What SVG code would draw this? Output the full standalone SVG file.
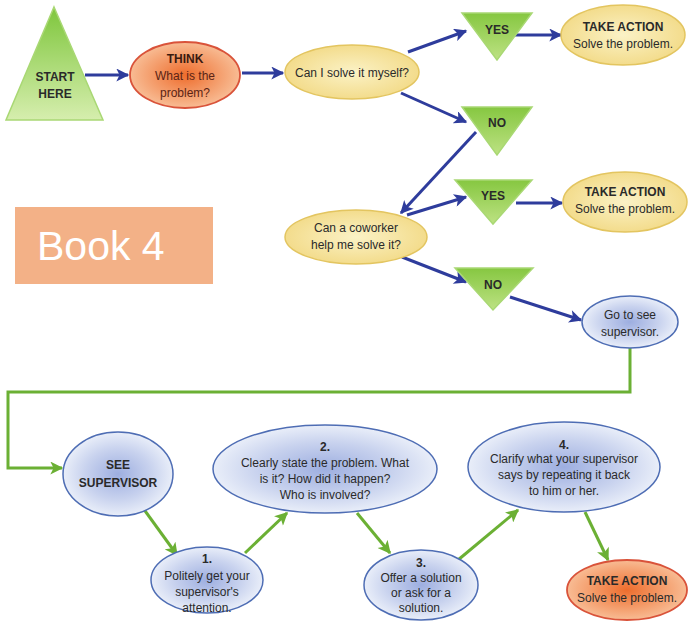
<svg xmlns="http://www.w3.org/2000/svg" width="689" height="622" viewBox="0 0 689 622">
<style>
text{font-family:"Liberation Sans",Arial,sans-serif;font-size:12px;fill:#2a2a2a;text-anchor:middle}
.b{font-weight:bold}
.yel{fill:url(#gy);stroke:#E3C560;stroke-width:1.5}
.blu{fill:url(#gb);stroke:#4E6DB4;stroke-width:1.5}
.org{fill:url(#go);stroke:#D9533A;stroke-width:1.8}
.tri{fill:url(#gt);stroke:#A9D874;stroke-width:1.5}
.ca{stroke:#2E3C9C;stroke-width:3;fill:none;marker-end:url(#ab)}
.cg{stroke:#6BB034;stroke-width:3;fill:none;marker-end:url(#ag)}
</style>
<defs>
<radialGradient id="gy" cx="50%" cy="50%" r="50%"><stop offset="0" stop-color="#FBF2C6"/><stop offset="1" stop-color="#F3DC8C"/></radialGradient>
<radialGradient id="gb" cx="50%" cy="50%" r="50%"><stop offset="0" stop-color="#9DAEE0"/><stop offset="0.6" stop-color="#C8D2EE"/><stop offset="1" stop-color="#E9EEF9"/></radialGradient>
<radialGradient id="go" cx="50%" cy="50%" r="50%"><stop offset="0" stop-color="#EE6D2D"/><stop offset="1" stop-color="#F8BC94"/></radialGradient>
<linearGradient id="gt" x1="0" y1="0" x2="0" y2="1"><stop offset="0" stop-color="#86C741"/><stop offset="1" stop-color="#BDE283"/></linearGradient>
<linearGradient id="gs" x1="0" y1="0" x2="0" y2="1"><stop offset="0" stop-color="#7EC63C"/><stop offset="1" stop-color="#D6EEAE"/></linearGradient>
<marker id="ab" viewBox="0 0 10 10" refX="9" refY="5" markerWidth="14" markerHeight="13" markerUnits="userSpaceOnUse" orient="auto"><path d="M0,0 L10,5 L0,10 L2.5,5z" fill="#2E3C9C"/></marker>
<marker id="ag" viewBox="0 0 10 10" refX="9" refY="5" markerWidth="14" markerHeight="13" markerUnits="userSpaceOnUse" orient="auto"><path d="M0,0 L10,5 L0,10 L2.5,5z" fill="#6BB034"/></marker>
</defs>
<rect width="689" height="622" fill="#fff"/>

<g id="connectors">
<path class="ca" d="M85,75 H128"/>
<path class="ca" d="M242,73 H283"/>
<path class="ca" d="M408,52 L466,31"/>
<path class="ca" d="M514,35 H561"/>
<path class="ca" d="M401,93 L466,122"/>
<path class="ca" d="M476,132 L401,213"/>
<path class="ca" d="M407,215 L466,197"/>
<path class="ca" d="M516,203 H562"/>
<path class="ca" d="M402,257 L466,282"/>
<path class="ca" d="M510,297 L581,320"/>
<path class="cg" d="M630,348 V392 H8 V468 H62"/>
<path class="cg" d="M143,508 L177,555"/>
<path class="cg" d="M245,553 L287,513"/>
<path class="cg" d="M357,513 L390,553"/>
<path class="cg" d="M458,560 L518,510"/>
<path class="cg" d="M585,512 L608,560"/>
</g>

<g id="book4">
<rect x="15" y="207" width="198" height="77" fill="#F3B187"/>
<text x="37" y="260" style="font-size:41px;fill:#fff;text-anchor:start">Book 4</text>
</g>

<g id="start">
<polygon points="54,7 103,120 6,120" fill="url(#gs)" stroke="#A9D874" stroke-width="1.5"/>
<text x="55" y="81" class="b">START</text>
<text x="55" y="98" class="b">HERE</text>
</g>

<g id="think">
<ellipse cx="185" cy="75" rx="55" ry="33" class="org"/>
<text x="185" y="63" class="b" style="fill:#3a1a10">THINK</text>
<text x="185" y="80" style="fill:#5a2416">What is the</text>
<text x="185" y="97" style="fill:#5a2416">problem?</text>
</g>

<g id="solve-myself">
<ellipse cx="352" cy="72" rx="67" ry="27" class="yel"/>
<text x="352" y="77">Can I solve it myself?</text>
</g>

<g id="yes1">
<polygon points="462,13 532,13 497,60" class="tri"/>
<text x="497" y="34" class="b">YES</text>
</g>

<g id="action1">
<ellipse cx="623" cy="35" rx="62" ry="30" class="yel"/>
<text x="623" y="31" class="b">TAKE ACTION</text>
<text x="623" y="48">Solve the problem.</text>
</g>

<g id="no1">
<polygon points="462,107 532,107 497,155" class="tri"/>
<text x="497" y="127" class="b">NO</text>
</g>

<g id="coworker">
<ellipse cx="356" cy="237" rx="71" ry="27" class="yel"/>
<text x="356" y="232">Can a coworker</text>
<text x="356" y="249">help me solve it?</text>
</g>

<g id="yes2">
<polygon points="455,180 532,180 493,224" class="tri"/>
<text x="493" y="200" class="b">YES</text>
</g>

<g id="action2">
<ellipse cx="625" cy="202" rx="62" ry="30" class="yel"/>
<text x="625" y="196" class="b">TAKE ACTION</text>
<text x="625" y="213">Solve the problem.</text>
</g>

<g id="no2">
<polygon points="455,268 533,268 493,310" class="tri"/>
<text x="493" y="289" class="b">NO</text>
</g>

<g id="go-supervisor">
<ellipse cx="630" cy="322" rx="48" ry="26" class="blu"/>
<text x="630" y="319">Go to see</text>
<text x="630" y="336">supervisor.</text>
</g>

<g id="see-supervisor">
<ellipse cx="118" cy="474" rx="55" ry="42" class="blu"/>
<text x="118" y="469" class="b">SEE</text>
<text x="118" y="487" class="b">SUPERVISOR</text>
</g>

<g id="step1">
<ellipse cx="207" cy="580" rx="56" ry="33" class="blu"/>
<text x="207" y="563" class="b">1.</text>
<text x="207" y="580">Politely get your</text>
<text x="207" y="596">supervisor's</text>
<text x="207" y="612">attention.</text>
</g>

<g id="step2">
<ellipse cx="325" cy="469" rx="112" ry="44" class="blu"/>
<text x="325" y="451" class="b">2.</text>
<text x="325" y="467">Clearly state the problem. What</text>
<text x="325" y="483">is it? How did it happen?</text>
<text x="325" y="499">Who is involved?</text>
</g>

<g id="step3">
<ellipse cx="421" cy="585" rx="57" ry="35" class="blu"/>
<text x="421" y="567" class="b">3.</text>
<text x="421" y="582">Offer a solution</text>
<text x="421" y="597">or ask for a</text>
<text x="421" y="612">solution.</text>
</g>

<g id="step4">
<ellipse cx="564" cy="467" rx="96" ry="45" class="blu"/>
<text x="564" y="449" class="b">4.</text>
<text x="564" y="463">Clarify what your supervisor</text>
<text x="564" y="479">says by repeating it back</text>
<text x="564" y="495">to him or her.</text>
</g>

<g id="action3">
<ellipse cx="627" cy="590" rx="60" ry="30" class="org"/>
<text x="627" y="585" class="b">TAKE ACTION</text>
<text x="627" y="602">Solve the problem.</text>
</g>
</svg>
